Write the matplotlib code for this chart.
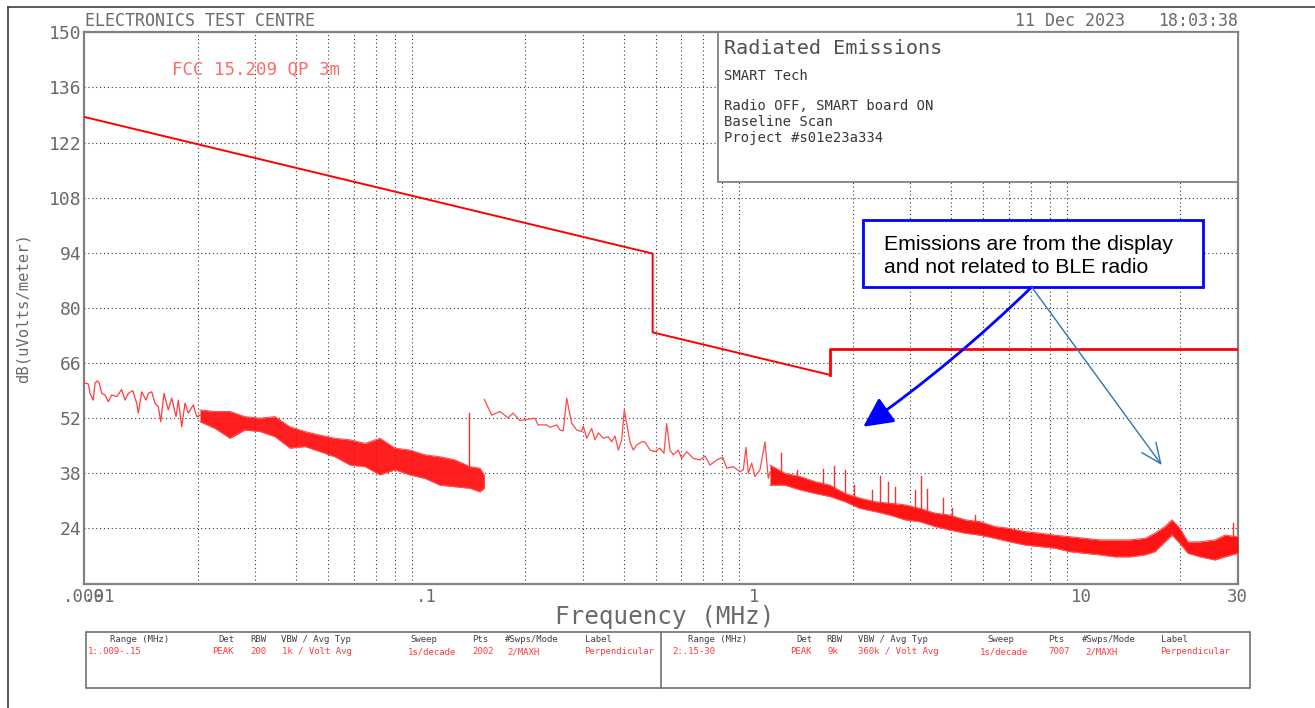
import numpy as np
import matplotlib
matplotlib.use("Agg")
import matplotlib.pyplot as plt
from matplotlib.patches import Rectangle, FancyArrowPatch
from matplotlib.lines import Line2D

plt.rcParams['font.family'] = ['DejaVu Sans Mono', 'DejaVu Sans']

# ---------------- data (MHz, dBuV/m) ----------------
limit_f = [0.009, 0.49, 0.49, 1.705, 1.705, 30.0]
limit_v = [128.5, 93.8, 73.8, 63.0, 69.5, 69.5]

seg1_line_f = [0.009, 0.009257, 0.009368, 0.009588, 0.009704, 0.009861, 0.010001, 0.010172,
               0.01041, 0.010655, 0.010913, 0.011303, 0.011708, 0.011983, 0.012264, 0.01265,
               0.01301, 0.013158, 0.013476, 0.01389, 0.014117, 0.014459, 0.014798, 0.015145,
               0.015403, 0.015765, 0.01625, 0.016643, 0.017153, 0.017433, 0.017854, 0.018274,
               0.018703, 0.019373, 0.019841, 0.020307]
seg1_line_v = [61.0, 60.7, 58.3, 56.6, 60.9, 61.5, 60.9, 58.3, 57.9, 56.2, 57.9, 57.5, 59.3,
               56.6, 58.3, 59.0, 55.8, 53.3, 58.7, 56.6, 58.3, 58.7, 55.8, 54.9, 51.1, 58.3,
               54.1, 57.1, 52.4, 56.6, 49.8, 55.8, 53.3, 55.4, 52.4, 52.8]

seg1_env_f = [0.020307, 0.022566, 0.025077, 0.027868, 0.030966, 0.034412, 0.038241, 0.042495,
              0.047223, 0.05248, 0.058316, 0.064802, 0.072011, 0.080025, 0.088933, 0.098829,
              0.10983, 0.12203, 0.13561, 0.14549, 0.15]
seg1_env_top = [54.1, 53.7, 53.7, 52.4, 52.0, 52.4, 49.8, 48.6, 47.7, 46.9, 46.5, 45.6, 46.9,
                44.4, 43.9, 42.7, 42.2, 41.4, 39.7, 39.3, 37.6]
seg1_env_bot = [51.1, 49.4, 46.9, 49.0, 48.6, 47.3, 44.4, 44.8, 43.5, 42.2, 40.1, 39.7, 37.6,
                38.9, 37.6, 36.7, 35.0, 34.6, 34.2, 33.3, 34.2]

seg2_line_f = [0.15, 0.15795, 0.16745, 0.17715, 0.18348, 0.19274, 0.20204, 0.21419, 0.21876,
               0.23255, 0.23802, 0.24951, 0.25536, 0.26136, 0.26768, 0.27728, 0.28719, 0.29747,
               0.30083, 0.30812, 0.31914, 0.32664, 0.33431, 0.34628, 0.35865, 0.36734, 0.37596,
               0.3848, 0.39411, 0.40137, 0.40821, 0.4178, 0.42761, 0.43796, 0.45363, 0.46428,
               0.4809, 0.49811, 0.51593, 0.53064, 0.54083, 0.55353, 0.56652, 0.5868, 0.60099,
               0.62251, 0.65209, 0.68356, 0.70803, 0.7333, 0.76869, 0.80181, 0.82469, 0.86388,
               0.90557, 0.92684, 0.94461, 0.96002, 0.98324, 1.0063, 1.0423, 1.0797, 1.105, 1.1183]
seg2_line_v = [56.8, 52.8, 53.7, 52.1, 53.3, 51.4, 51.7, 52.0, 50.3, 50.3, 49.7, 50.3, 49.0,
               48.8, 57.1, 50.7, 49.0, 48.6, 50.0, 46.9, 49.4, 46.5, 48.3, 46.9, 47.3, 46.0,
               47.5, 43.9, 46.5, 54.1, 50.7, 46.0, 43.9, 45.2, 46.0, 46.0, 43.9, 43.5, 44.4,
               43.1, 50.7, 43.9, 42.7, 43.9, 41.8, 43.5, 41.8, 41.4, 42.4, 40.1, 41.4, 42.1,
               39.3, 39.7, 38.4, 38.9, 44.6, 38.0, 40.6, 37.2, 38.9, 46.0, 36.7, 38.3]

seg2_env_f = [1.1183, 1.2427, 1.381, 1.5347, 1.7054, 1.8951, 2.106, 2.3404, 2.6009, 2.8902,
              3.2118, 3.5691, 3.9662, 4.4075, 4.8978, 5.4428, 6.0483, 6.7212, 7.469, 8.2999,
              9.2233, 10.2495, 11.39, 12.657, 14.065, 15.63, 16.769, 17.99, 18.897, 19.99,
              21.148, 23.012, 25.572, 27.43, 30.0]
seg2_env_top = [40.1, 38.0, 37.2, 35.9, 35.0, 32.9, 31.7, 30.8, 30.4, 30.0, 29.1, 27.9, 27.4,
                26.2, 25.7, 24.5, 24.0, 23.2, 22.8, 22.3, 21.9, 21.5, 21.1, 21.1, 21.1, 21.5,
                22.8, 24.5, 26.2, 24.0, 20.6, 20.6, 21.1, 22.3, 21.9]
seg2_env_bot = [35.0, 35.0, 33.8, 32.9, 32.1, 30.8, 29.1, 28.3, 27.4, 26.2, 25.7, 24.5, 23.6,
                22.8, 22.3, 21.5, 20.6, 19.8, 19.4, 19.0, 18.1, 17.7, 17.3, 16.8, 16.8, 17.3,
                18.1, 20.6, 22.3, 20.2, 17.7, 16.8, 16.0, 16.8, 17.7]

spike_f = [0.135, 1.2082, 1.355, 1.62, 1.7579, 1.8951, 2.0192, 2.2868, 2.4243, 2.5698, 2.6937,
           3.1008, 3.2345, 3.381, 3.7676, 4.0142, 4.7286, 29.085]
spike_v = [53.4, 43.1, 38.8, 39.0, 39.9, 38.8, 35.0, 33.8, 37.2, 35.9, 34.6, 33.8, 37.2, 34.0,
           31.7, 29.1, 27.4, 25.3]

x_ticks = [0.009, 0.01, 0.1, 1, 10, 30]
x_ticklabels = ['.009', '.01', '.1', '1', '10', '30']
x_grid = [0.01, 0.02, 0.03, 0.04, 0.05, 0.06, 0.07, 0.08, 0.09,
          0.1, 0.2, 0.3, 0.4, 0.5, 0.6, 0.7, 0.8, 0.9,
          1, 2, 3, 4, 5, 6, 7, 8, 9, 10, 20]
y_ticks = [24, 38, 52, 66, 80, 94, 108, 122, 136, 150]

info_title = "Radiated Emissions"
info_lines = ["SMART Tech", "", "Radio OFF, SMART board ON", "Baseline Scan", "Project #s01e23a334"]
limit_label = "FCC 15.209 QP 3m"
header_left = "ELECTRONICS TEST CENTRE"
header_date = "11 Dec 2023"
header_time = "18:03:38"
note_lines = ["Emissions are from the display", "and not related to BLE radio"]

table_headers = ["Range (MHz)", "Det", "RBW", "VBW / Avg Typ", "Sweep", "Pts", "#Swps/Mode", "Label"]
table_row1 = ["1:.009-.15", "PEAK", "200", "1k / Volt Avg", "1s/decade", "2002", "2/MAXH", "Perpendicular"]
table_row2 = ["2:.15-30", "PEAK", "9k", "360k / Volt Avg", "1s/decade", "7007", "2/MAXH", "Perpendicular"]

# ---------------- layout helpers ----------------
W, H = 1315, 708
fig = plt.figure(figsize=(W / 100, H / 100), dpi=100)
fig.patch.set_facecolor('white')
def fx(x): return x / W
def fy(y): return 1 - y / H

GRAY = '#6a6a6a'
ax = fig.add_axes([fx(84.3), fy(583.6), fx(1237.7) - fx(84.3), fy(32.3) - fy(583.6)])
ax.set_xscale('log')
ax.set_xlim(0.009, 30)
ax.set_ylim(10, 150)

for s in ax.spines.values():
    s.set_color('#808080')
    s.set_linewidth(1.6)

ax.set_xticks(x_ticks)
ax.set_xticklabels(x_ticklabels)
ax.set_xticks(x_grid, minor=True)
ax.set_yticks(y_ticks)
ax.set_yticklabels([str(v) for v in y_ticks])
ax.tick_params(which='both', length=0)
ax.tick_params(axis='x', labelsize=12.5, labelcolor=GRAY, pad=3)
ax.tick_params(axis='y', labelsize=13, labelcolor=GRAY, pad=2)
ax.xaxis.grid(True, which='minor', color='#3a3a3a', linestyle=(0, (1, 2.5)), linewidth=0.8)
ax.xaxis.grid(False, which='major')
ax.yaxis.grid(True, which='major', color='#3a3a3a', linestyle=(0, (1, 2.5)), linewidth=0.8)
ax.set_axisbelow(True)

RED = '#ff0000'
# limit line
ax.plot(limit_f[:4], limit_v[:4], color=RED, lw=1.4, zorder=4)
ax.plot(limit_f[3:], limit_v[3:], color=RED, lw=2.0, zorder=4)

# measured traces
ax.plot(seg1_line_f, seg1_line_v, color='#ff3b3b', lw=0.9, zorder=3)
ax.fill_between(seg1_env_f, seg1_env_bot, seg1_env_top, color=RED, alpha=0.88, lw=0, zorder=3)
ax.plot(seg1_env_f, seg1_env_top, color='#ff5050', lw=0.8, zorder=3)
ax.plot(seg1_env_f, seg1_env_bot, color='#ff5050', lw=0.8, zorder=3)

ax.plot(seg2_line_f, seg2_line_v, color='#ff4a4a', lw=0.9, zorder=3)
ax.fill_between(seg2_env_f, seg2_env_bot, seg2_env_top, color=RED, alpha=0.92, lw=0, zorder=3)
ax.plot(seg2_env_f, seg2_env_top, color='#ff5050', lw=0.8, zorder=3)
ax.plot(seg2_env_f, seg2_env_bot, color='#ff5050', lw=0.8, zorder=3)

for f, v in zip(spike_f, spike_v):
    if f <= 0.15:
        base = np.interp(np.log10(f), np.log10(seg1_env_f), seg1_env_top)
    else:
        base = np.interp(np.log10(f), np.log10(seg2_env_f), seg2_env_top)
    ax.plot([f, f], [base, v], color='#ff3030', lw=1.0, zorder=3)

# ---------------- texts ----------------
fig.text(fx(85), fy(20.5), header_left, fontsize=12, color=GRAY, va='center', ha='left')
fig.text(fx(1125), fy(20.5), header_date, fontsize=12, color=GRAY, va='center', ha='right')
fig.text(fx(1238), fy(20.5), header_time, fontsize=12, color=GRAY, va='center', ha='right')
fig.text(fx(172), fy(70), limit_label, fontsize=12.6, color='#ff6a6a', va='center', ha='left')
fig.text(fx(665), fy(617), "Frequency (MHz)", fontsize=17.5, color=GRAY, va='center', ha='center')
fig.text(fx(23), fy(308), "dB(uVolts/meter)", fontsize=11.2, color=GRAY, va='center',
         ha='center', rotation=90)

# info box
fig.add_artist(Rectangle((fx(718), fy(182)), fx(1237.7) - fx(718), fy(32.3) - fy(182),
                         transform=fig.transFigure, facecolor='white', edgecolor='#808080',
                         lw=1.3, zorder=5))
fig.text(fx(724), fy(48), info_title, fontsize=14.5, color='#505050', va='center', ha='left', zorder=6)
for i, line in enumerate(info_lines):
    yy = [76, 91, 106, 122, 138][i]
    fig.text(fx(724), fy(yy), line, fontsize=10, color='#383838', va='center', ha='left', zorder=6)

# note box + arrows
fig.add_artist(Rectangle((fx(863), fy(287)), fx(1203) - fx(863), fy(220) - fy(287),
                         transform=fig.transFigure, facecolor='white', edgecolor='#0000ff',
                         lw=2, zorder=7))
for i, line in enumerate(note_lines):
    fig.text(fx(884), fy([244, 268][i]), line, fontsize=15.3,
             family=['Liberation Sans', 'DejaVu Sans'], color='black',
             va='center', ha='left', zorder=8)
fig.add_artist(FancyArrowPatch((fx(1031.7), fy(287)), (fx(863.3), fy(426.7)),
                               transform=fig.transFigure, arrowstyle='-|>,head_length=1.0,head_width=0.5',
                               mutation_scale=18, color='#0000ff', lw=2, shrinkA=0, shrinkB=0,
                               connectionstyle='arc3,rad=-0.04', zorder=8))
fig.add_artist(FancyArrowPatch((fx(1031.7), fy(287)), (fx(1161.7), fy(465)),
                               transform=fig.transFigure, arrowstyle='->,head_length=0.8,head_width=0.35',
                               mutation_scale=18, color='#2e75b6', lw=1.0, shrinkA=0, shrinkB=0,
                               zorder=8))

# page border
fig.add_artist(Line2D([fx(8), 1], [fy(7), fy(7)], color='#404040', lw=1.2, transform=fig.transFigure))
fig.add_artist(Line2D([fx(8), fx(8)], [fy(7), 0], color='#404040', lw=1.2, transform=fig.transFigure))

# bottom table
fig.add_artist(Rectangle((fx(86), fy(688)), fx(1250) - fx(86), fy(632) - fy(688),
                         transform=fig.transFigure, facecolor='none', edgecolor='#707070', lw=1.2))
fig.add_artist(Line2D([fx(661), fx(661)], [fy(632), fy(688)], color='#707070', lw=1.2,
                      transform=fig.transFigure))
hdr_x_left = [110, 218, 250, 281, 410, 472, 505, 585]
row_x_left = [88, 212, 250, 282, 408, 472, 507, 584]
hdr_x_right = [688, 796, 826, 858, 987, 1048, 1082, 1161]
row_x_right = [672, 790, 828, 858, 980, 1048, 1085, 1160]
for t, x in zip(table_headers, hdr_x_left):
    fig.text(fx(x), fy(640), t, fontsize=6.5, color='#404040', va='center', ha='left')
for t, x in zip(table_row1, row_x_left):
    fig.text(fx(x), fy(652), t, fontsize=6.5, color='#ff3a3a', va='center', ha='left')
for t, x in zip(table_headers, hdr_x_right):
    fig.text(fx(x), fy(640), t, fontsize=6.5, color='#404040', va='center', ha='left')
for t, x in zip(table_row2, row_x_right):
    fig.text(fx(x), fy(652), t, fontsize=6.5, color='#ff3a3a', va='center', ha='left')

fig.savefig('out.png', dpi=100, facecolor='white')
